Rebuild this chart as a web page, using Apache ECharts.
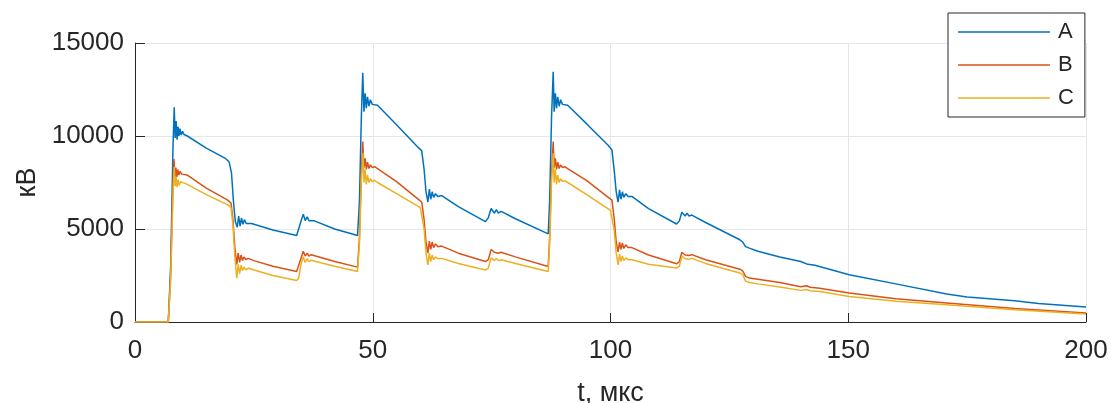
<!DOCTYPE html>
<html>
<head>
<meta charset="utf-8">
<script src="https://cdn.jsdelivr.net/npm/echarts@6/dist/echarts.min.js"></script>
<style>
html,body{margin:0;padding:0;background:#fff;}
#chart{width:1111px;height:403px;}
</style>
</head>
<body>
<div id="chart"></div>
<script>
// Series names
const seriesNames = ['A', 'B', 'C'];
// Axis ticks
const xTicks = [0, 50, 100, 150, 200];
const yTicks = [0, 5000, 10000, 15000];

// Series A: [t (мкс), value (кВ)]
const seriesA = [
  [0,0],[7.0,0],[7.5,3000],[8.0,9500],[8.25,11550],[8.45,9900],[8.65,10800],[8.85,9800],[9.05,10500],[9.25,10000],
  [9.45,10400],[9.7,10050],[10.0,10250],[10.3,10080],[10.6,10150],[11,10000],[15,9350],[19,8800],[19.8,8600],
  [20.3,8000],[20.7,6500],[21.1,5400],[21.5,5100],[21.8,5700],[22.1,5150],[22.4,5600],[22.7,5250],[23.0,5500],
  [23.4,5300],[23.8,5400],[24.5,5300],[29,4950],[34,4650],[34.4,4750],[35.0,5500],[35.4,5800],[35.8,5450],
  [36.2,5650],[36.6,5450],[37.0,5550],[37.6,5450],[42,5000],[46.8,4650],[47.2,6500],[47.6,11000],[47.9,13400],
  [48.15,11300],[48.4,12300],[48.65,11500],[48.9,12100],[49.2,11600],[49.5,11950],[49.9,11700],[50.3,11800],
  [51,11650],[55,10600],[59.5,9400],[60.3,9200],[60.8,8200],[61.2,7000],[61.6,6450],[61.9,7150],[62.2,6600],
  [62.5,7000],[62.8,6700],[63.2,6900],[63.7,6750],[64.5,6800],[68,6200],[73.7,5400],[74.3,5600],[74.9,6100],
  [75.2,6200],[75.6,5850],[76.0,6050],[76.4,5850],[77,5950],[80,5550],[86.9,4740],[87.2,6500],[87.6,11000],
  [87.95,13450],[88.15,11300],[88.4,12300],[88.65,11500],[88.9,12100],[89.2,11600],[89.5,11950],[89.9,11700],
  [90.3,11800],[91,11650],[95,10650],[99.5,9500],[100.3,9250],[100.8,8100],[101.2,7000],[101.6,6450],
  [101.9,7100],[102.2,6600],[102.5,7000],[102.8,6700],[103.2,6900],[103.7,6750],[104.5,6750],[108,6100],
  [113.9,5270],[114.5,5450],[115.0,5900],[115.3,5990],[115.7,5700],[116.1,5850],[116.5,5700],[117.1,5750],
  [120,5350],[127.2,4420],[127.8,4300],[128.4,4050],[129.2,3970],[131,3800],[135.6,3490],[140,3250],
  [141.5,3100],[142.3,3080],[143,3050],[150.2,2540],[160,2050],[170.7,1500],[175,1350],[185,1140],[190,1000],[200,800]
];

// Series B
const seriesB = [
  [0,0],[7.0,0],[7.5,2500],[8.0,7500],[8.2,8760],[8.4,7700],[8.6,8300],[8.8,7800],[9.0,8200],[9.2,7900],
  [9.5,8100],[9.8,7950],[10.2,8050],[11,7900],[15,7200],[19.5,6550],[20.2,6400],[20.6,5500],[21.0,4000],
  [21.4,3100],[21.7,3700],[22.0,3200],[22.3,3600],[22.6,3300],[22.9,3500],[23.3,3350],[23.8,3420],[25,3300],
  [29,3000],[34,2720],[34.4,2800],[35.0,3500],[35.4,3800],[35.8,3550],[36.2,3700],[36.6,3550],[37.1,3620],
  [38,3550],[42,3250],[46.8,2950],[47.2,4500],[47.6,8000],[47.9,9700],[48.15,8300],[48.4,8800],[48.65,8200],
  [48.9,8600],[49.2,8250],[49.5,8450],[49.9,8300],[50.4,8350],[51,8250],[55,7550],[59.8,6550],[60.3,6450],
  [60.8,5500],[61.2,4300],[61.6,3700],[61.9,4350],[62.2,3900],[62.5,4300],[62.8,4000],[63.2,4200],[63.7,4050],
  [64.5,4080],[68,3700],[73.7,3250],[74.3,3350],[74.9,3900],[75.2,3970],[75.6,3750],[76.0,3850],[76.4,3700],
  [77,3750],[80,3500],[86.9,2980],[87.2,4500],[87.6,8000],[87.95,9700],[88.15,8300],[88.4,8800],[88.65,8200],
  [88.9,8600],[89.2,8250],[89.5,8450],[89.9,8300],[90.4,8350],[91,8250],[95,7600],[99.8,6650],[100.3,6550],
  [100.8,5500],[101.2,4300],[101.6,3770],[101.9,4300],[102.2,3900],[102.5,4250],[102.8,3950],[103.2,4150],
  [103.7,4000],[104.5,4000],[108,3600],[113.9,3130],[114.5,3250],[115.0,3750],[115.3,3820],[115.7,3600],
  [116.1,3700],[116.5,3580],[117.1,3620],[120,3350],[127.2,2840],[127.8,2750],[128.4,2450],[129.2,2360],
  [131,2300],[135.6,2120],[140,1900],[141.2,1950],[142,1870],[144,1820],[150.2,1560],[160,1250],[170.7,1020],
  [185,720],[200,480]
];

// Series C
const seriesC = [
  [0,0],[7.0,0],[7.5,2300],[8.0,7000],[8.25,8350],[8.45,7300],[8.65,7800],[8.85,7250],[9.05,7650],[9.3,7350],
  [9.6,7550],[10,7450],[11,7400],[15,6850],[19.5,6300],[20.2,6150],[20.6,5200],[21.0,3500],[21.4,2350],
  [21.7,3100],[22.0,2600],[22.3,3050],[22.6,2750],[22.9,2950],[23.3,2800],[23.8,2900],[25,2800],[29,2500],
  [34,2230],[34.4,2350],[35.0,3200],[35.4,3500],[35.8,3200],[36.2,3400],[36.6,3250],[37.1,3320],[38,3250],
  [42,3000],[46.8,2720],[47.2,4200],[47.6,7600],[47.95,9100],[48.15,7500],[48.4,8200],[48.65,7400],[48.9,7900],
  [49.2,7500],[49.5,7700],[49.9,7550],[50.4,7620],[51,7500],[55,6900],[60,6150],[60.3,6100],[60.8,5000],
  [61.2,3700],[61.6,3070],[61.9,3700],[62.2,3250],[62.5,3600],[62.8,3350],[63.2,3500],[63.7,3400],[64.5,3420],
  [68,3150],[73.7,2800],[74.3,2900],[74.9,3450],[75.2,3520],[75.6,3300],[76.0,3420],[76.4,3300],[77,3350],
  [80,3150],[86.9,2720],[87.2,4200],[87.6,7600],[87.95,9070],[88.15,7500],[88.4,8200],[88.65,7400],[88.9,7900],
  [89.2,7500],[89.5,7700],[89.9,7550],[90.4,7600],[91,7500],[95,6850],[100,6000],[100.3,5930],[100.8,4900],
  [101.2,3700],[101.6,3070],[101.9,3650],[102.2,3250],[102.5,3550],[102.8,3300],[103.2,3450],[103.7,3350],
  [104.5,3350],[108,3100],[113.9,2900],[114.5,3000],[115.0,3550],[115.3,3610],[115.7,3400],[116.1,3500],
  [116.5,3380],[117.1,3420],[120,3150],[127.2,2630],[127.8,2550],[128.4,2200],[129.2,2120],[131,2050],
  [135.6,1880],[140,1700],[141.2,1750],[142,1680],[144,1640],[150.2,1370],[160,1120],[170.7,930],[185,660],[200,430]
];

const colors = ['#0072BD', '#D95319', '#EDB120'];
const FONT = '"Liberation Sans", Arial, Helvetica, sans-serif';
const AX = '#262626';

const chart = echarts.init(document.getElementById('chart'), null, {renderer: 'canvas'});
const mk = (name, data, color) => ({
  name, type: 'line', data, showSymbol: false, symbol: 'none',
  lineStyle: {color, width: 1.5}, itemStyle: {color}, animation: false
});
chart.setOption({
  animation: false,
  backgroundColor: '#fff',
  grid: {left: 135, right: 25, top: 43, bottom: 81, containLabel: false, outerBoundsMode: 'none'},
  legend: {
    orient: 'vertical', left: 948, top: 13,
    data: seriesNames,
    icon: 'rect',
    itemWidth: 92, itemHeight: 1.6, itemGap: 11,
    padding: [8, 11, 8, 10],
    backgroundColor: '#fff', borderColor: AX, borderWidth: 1,
    textStyle: {fontFamily: FONT, fontSize: 22, color: AX, lineHeight: 22, padding: [0, 0, 0, 3]}
  },
  xAxis: {
    type: 'value', min: xTicks[0], max: xTicks[xTicks.length - 1], interval: 50,
    name: 't, мкс', nameLocation: 'middle', nameGap: 58,
    nameTextStyle: {fontFamily: FONT, fontSize: 27, color: AX},
    axisLine: {show: true, onZero: false, lineStyle: {color: AX, width: 1}},
    axisTick: {show: true, inside: true, length: 9, lineStyle: {color: AX}},
    axisLabel: {fontFamily: FONT, fontSize: 26, color: AX, margin: 16},
    splitLine: {show: true, lineStyle: {color: '#e6e6e6', width: 1}}
  },
  yAxis: {
    type: 'value', min: yTicks[0], max: yTicks[yTicks.length - 1], interval: 5000,
    name: 'кВ', nameLocation: 'middle', nameGap: 88, nameRotate: 90,
    nameTextStyle: {fontFamily: FONT, fontSize: 27, color: AX},
    axisLine: {show: true, lineStyle: {color: AX, width: 1}},
    axisTick: {show: true, inside: true, length: 10, lineStyle: {color: AX}},
    axisLabel: {fontFamily: FONT, fontSize: 26, color: AX, margin: 11, formatter: v => String(v)},
    splitLine: {show: true, lineStyle: {color: '#e6e6e6', width: 1}}
  },
  series: [
    mk(seriesNames[0], seriesA, colors[0]),
    mk(seriesNames[1], seriesB, colors[1]),
    mk(seriesNames[2], seriesC, colors[2])
  ]
});
</script>
</body>
</html>
